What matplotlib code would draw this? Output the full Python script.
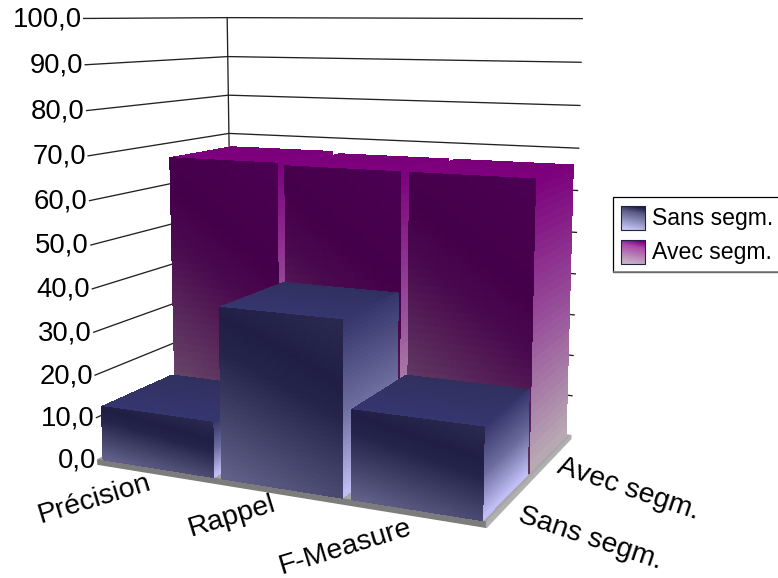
import numpy as np
import matplotlib
matplotlib.use("Agg")
import matplotlib.pyplot as plt
from matplotlib.collections import PolyCollection
from matplotlib.colors import to_rgb
from matplotlib.patches import Rectangle

categories = ["Précision", "Rappel", "F-Measure"]
series_names = ["Sans segm.", "Avec segm."]
sans_segm = [12.5, 38.5, 19.5]
avec_segm = [66.5, 66.0, 66.0]
ticks = [0, 10, 20, 30, 40, 50, 60, 70, 80, 90, 100]
tick_labels = ["0,0", "10,0", "20,0", "30,0", "40,0", "50,0", "60,0", "70,0", "80,0", "90,0", "100,0"]

# camera fit: (category, series, value) -> pixel
world = [(0, 0, 0), (1, 0, 0), (2, 0, 0), (3, 0, 0), (3, 2, 0), (0, 2, 0),
         (0, 0, 100), (0, 2, 100), (3, 2, 100)]
pixels = [(97, 456), (216, 477), (347, 499), (487, 527), (570, 432), (233, 396),
          (83, 20), (228, 16), (582, 19)]


def fit_camera(world, pixels):
    rows, rhs = [], []
    for (x, y, z), (px, py) in zip(world, pixels):
        rows.append([x, y, z, 1, 0, 0, 0, 0, -px * x, -px * y, -px * z])
        rows.append([0, 0, 0, 0, x, y, z, 1, -py * x, -py * y, -py * z])
        rhs += [px, py]
    sol = np.linalg.lstsq(np.array(rows, float), np.array(rhs, float), rcond=None)[0]
    return np.append(sol, 1).reshape(3, 4)


cam = fit_camera(world, pixels)


def project(x, y, z):
    x, y, z = np.asarray(x, float), np.asarray(y, float), np.asarray(z, float)
    w = cam[2, 0] * x + cam[2, 1] * y + cam[2, 2] * z + cam[2, 3]
    px = (cam[0, 0] * x + cam[0, 1] * y + cam[0, 2] * z + cam[0, 3]) / w
    py = (cam[1, 0] * x + cam[1, 1] * y + cam[1, 2] * z + cam[1, 3]) / w
    return px, py


def ramp(t, stops):
    pos = [s[0] for s in stops]
    rgb = np.array([to_rgb(s[1]) for s in stops])
    return np.stack([np.interp(t, pos, rgb[:, i]) for i in range(3)], axis=-1)


def shade(ax, to_xy, stops, tilt=0.0, n=36, zorder=3):
    # small cells so the gradient follows the perspective of the face
    polys, cols = [], []
    edges = np.linspace(0, 1, n + 1)
    for i in range(n):
        for j in range(n):
            u0, u1, v0, v1 = edges[i], edges[i + 1], edges[j], edges[j + 1]
            cell = [to_xy(u0, v0), to_xy(u1, v0), to_xy(u1, v1), to_xy(u0, v1)]
            polys.append([(float(a), float(b)) for a, b in cell])
            um, vm = (u0 + u1) / 2, (v0 + v1) / 2
            cols.append(ramp(vm + tilt * (0.5 - um), stops))
    pc = PolyCollection(polys, facecolors=cols, edgecolors=cols, linewidths=0.5,
                        antialiaseds=False, zorder=zorder)
    ax.add_collection(pc)


def box(ax, x0, x1, y0, y1, h, style, zorder):
    front = lambda u, v: project(x0 + (x1 - x0) * u, y0, h * (1 - v))
    side = lambda u, v: project(x1, y0 + (y1 - y0) * u, h * (1 - v))
    top = lambda u, v: project(x0 + (x1 - x0) * u, y1 + (y0 - y1) * v, h)
    shade(ax, top, style["top"], zorder=zorder)
    shade(ax, side, style["side"], zorder=zorder)
    shade(ax, front, style["front"], tilt=0.3, zorder=zorder)


sans_style = {
    "front": [(-0.15, "#2a2950"), (0.2, "#201e44"), (0.4, "#24234a"), (1.15, "#62628a")],
    "side": [(0.0, "#34346c"), (0.5, "#6a6a9c"), (1.0, "#c0c0f6")],
    "top": [(0.0, "#30305f"), (1.0, "#363670")],
}
avec_style = {
    "front": [(-0.15, "#4c0052"), (0.25, "#44004a"), (0.45, "#4a0a4e"), (1.15, "#705a70")],
    "side": [(0.0, "#7c007c"), (0.5, "#98509a"), (1.0, "#b8aab4")],
    "top": [(0.0, "#780078"), (1.0, "#800080")],
}

fig = plt.figure(figsize=(7.78, 5.78), dpi=100)
ax = fig.add_axes([0, 0, 1, 1])
ax.set_xlim(0, 778)
ax.set_ylim(578, 0)
ax.axis("off")
font = "Liberation Sans"

# back walls
for t in ticks[1:]:
    xs, ys = project([0, 0, 3], [0, 2, 2], [t, t, t])
    ax.plot(xs, ys, color="#222222", lw=0.95, zorder=1)
xs, ys = project([0, 0], [2, 2], [0, 100])
ax.plot(xs, ys, color="#222222", lw=0.95, zorder=1)

# floor with its thin slab
fx, fy = project([0, 3, 3, 0], [0, 0, 2, 2], [0, 0, 0, 0])
ax.fill(fx, fy, color="#a6a6a6", zorder=2)
sx, sy = project([0, 3, 3, 0], [0, 0, 0, 0], [0, 0, -1.1, -1.1])
ax.fill(sx, sy, color="#7c7c7c", zorder=2)
sx, sy = project([3, 3, 3, 3], [0, 2, 2, 0], [0, 0, -0.8, -1.1])
ax.fill(sx, sy, color="#b0b0b0", zorder=2)

# rear row first, then the front row, each from left to right
gap = 0.035
for i, val in enumerate(avec_segm):
    box(ax, i + gap, i + 1 - gap, 1.02, 1.98, val, avec_style, 3)
for i, val in enumerate(sans_segm):
    box(ax, i + gap, i + 1 - gap, 0.02, 0.98, val, sans_style, 4)

for t, lab in zip(ticks, tick_labels):
    px, py = project(0, 0, t)
    ax.text(px - 2, py + 1, lab, ha="right", va="center", fontsize=19.8, family=font, zorder=6)

cat_pos = [(94, 499, 17), (232, 516, 17), (345, 547, 17)]
for lab, (px, py, rot) in zip(categories, cat_pos):
    ax.text(px, py, lab, ha="center", va="center", rotation=rot, rotation_mode="anchor",
            fontsize=20.4, family=font, zorder=6)
ser_pos = [(590, 538, -18.5), (628, 489, -18.5)]
for lab, (px, py, rot) in zip(series_names, ser_pos):
    ax.text(px, py, lab, ha="center", va="center", rotation=rot, rotation_mode="anchor",
            fontsize=20.4, family=font, zorder=6)

# legend
ax.add_patch(Rectangle((613.5, 197), 170, 75, facecolor="white", edgecolor="black", lw=0.9, zorder=7))
ax.plot([614, 778], [272, 272], color="#808080", lw=1.2, zorder=8)
swatches = [(206, [(0, "#1e1c48"), (0.25, "#5a5a84"), (1, "#c4c4f4")]),
            (240, [(0, "#800080"), (0.25, "#a848a8"), (1, "#c8b4c4")])]
for name, (sy0, stops) in zip(series_names, swatches):
    to_xy = lambda u, v, y0=sy0: (621 + 24 * u, y0 + 24 * v)
    shade(ax, to_xy, stops, tilt=0.2, n=24, zorder=8)
    ax.add_patch(Rectangle((621, sy0), 24, 24, fill=False, edgecolor="#222244", lw=0.8, zorder=9))
    ax.text(652, sy0 + 12, name, ha="left", va="center", fontsize=16.6, family=font, zorder=9)

fig.savefig("out.png", dpi=100)
